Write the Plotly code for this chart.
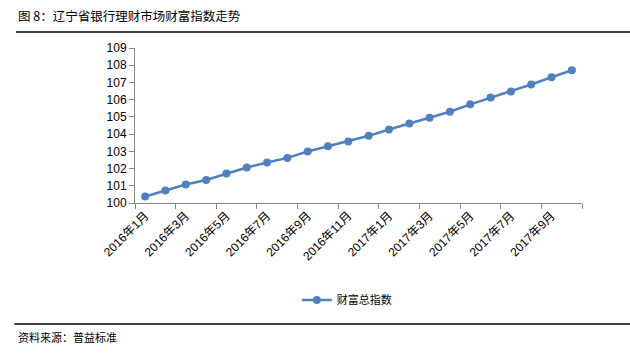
import plotly.graph_objects as go

categories = ["2016年1月", "2016年2月", "2016年3月", "2016年4月", "2016年5月", "2016年6月",
              "2016年7月", "2016年8月", "2016年9月", "2016年10月", "2016年11月", "2016年12月",
              "2017年1月", "2017年2月", "2017年3月", "2017年4月", "2017年5月", "2017年6月",
              "2017年7月", "2017年8月", "2017年9月", "2017年10月"]
wealth_index = [100.38, 100.72, 101.07, 101.34, 101.71, 102.06, 102.35, 102.62, 102.99, 103.30,
                103.57, 103.90, 104.27, 104.62, 104.95, 105.30, 105.73, 106.12, 106.47, 106.88,
                107.30, 107.71]
series_name = "财富总指数"
title_text = "图 8：辽宁省银行理财市场财富指数走势"
source_text = "资料来源：普益标准"
y_ticks = list(range(100, 110))

FONT = "Liberation Sans, Noto Sans CJK SC, sans-serif"
CJK = "Noto Sans CJK SC, sans-serif"
AXIS_COLOR = "#868686"
LINE_COLOR = "#4F81BD"

fig = go.Figure()
fig.add_trace(go.Scatter(
    x=categories, y=wealth_index, name=series_name, mode="lines+markers",
    line=dict(color=LINE_COLOR, width=2.5),
    marker=dict(color=LINE_COLOR, size=8, symbol="circle"),
    showlegend=True,
))

fig.update_layout(
    width=630, height=357,
    margin=dict(l=135, r=48, t=48, b=154, autoexpand=False),
    paper_bgcolor="white", plot_bgcolor="white",
    font=dict(family=FONT, size=12, color="#000000"),
    showlegend=True,
    legend=dict(x=0.362, y=-0.626, xanchor="left", yanchor="middle",
                orientation="h", itemwidth=30, font=dict(size=11, family=CJK),
                bgcolor="rgba(0,0,0,0)"),
    xaxis=dict(
        type="category", categoryorder="array", categoryarray=categories,
        range=[-0.5, len(categories) - 0.5], automargin=False,
        dtick=2, tickson="boundaries", ticks="outside", ticklen=5,
        tickcolor=AXIS_COLOR, showline=True, linecolor=AXIS_COLOR, linewidth=1,
        showgrid=False, zeroline=False, tickangle=-45,
        tickfont=dict(size=12, family=FONT),
    ),
    yaxis=dict(
        range=[100, 109], tickvals=y_ticks, ticktext=[str(v) for v in y_ticks],
        automargin=False,
        ticks="outside", ticklen=5, tickcolor=AXIS_COLOR,
        showline=True, linecolor=AXIS_COLOR, linewidth=1,
        showgrid=False, zeroline=False,
        tickfont=dict(size=12, family=FONT),
    ),
    shapes=[
        dict(type="line", xref="paper", yref="paper", x0=-0.266, x1=1.11, y0=1.103, y1=1.103,
             line=dict(color="#000000", width=1.5)),
        dict(type="line", xref="paper", yref="paper", x0=-0.27, x1=1.11, y0=-0.781, y1=-0.781,
             line=dict(color="#000000", width=1.5)),
    ],
    annotations=[
        dict(text=title_text, xref="paper", yref="paper", x=-0.266, y=1.21,
             xanchor="left", yanchor="middle", showarrow=False,
             font=dict(size=12.5, family=CJK, color="#000000")),
        dict(text=source_text, xref="paper", yref="paper", x=-0.266, y=-0.866,
             xanchor="left", yanchor="middle", showarrow=False,
             font=dict(size=11, family=CJK, color="#000000")),
    ],
)

fig.write_html("out.html", config={"displayModeBar": False},
               post_script="document.body.style.margin='0';")
